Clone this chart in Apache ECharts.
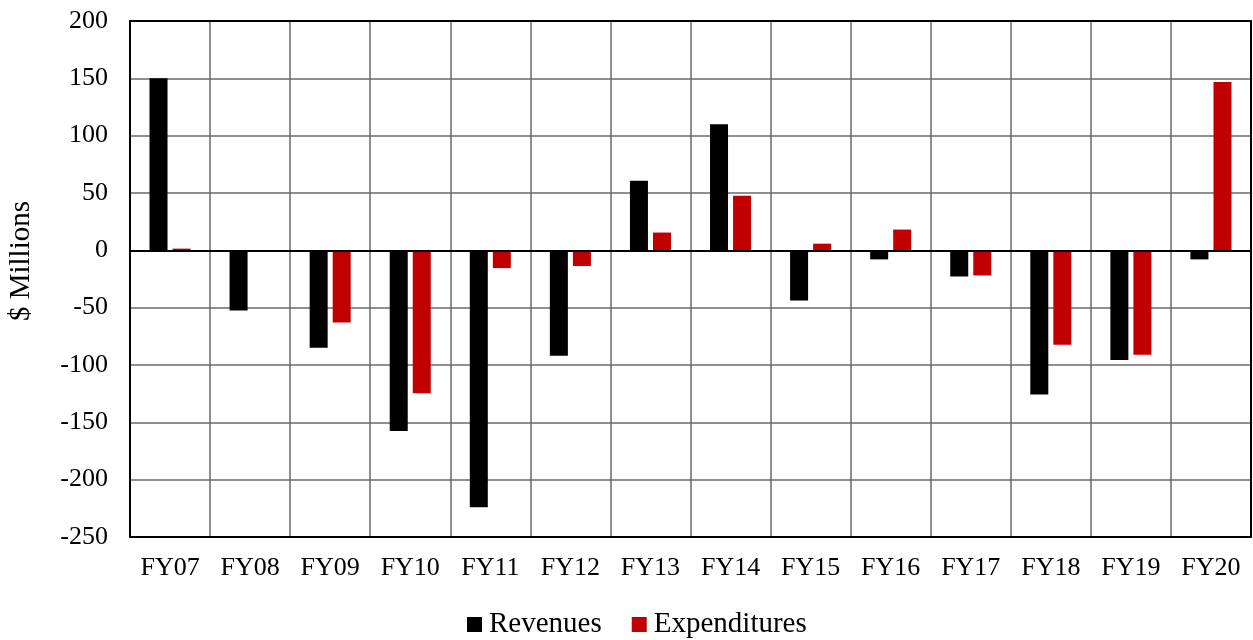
<!DOCTYPE html>
<html>
<head>
<meta charset="utf-8">
<script src="https://cdn.jsdelivr.net/npm/echarts@6/dist/echarts.min.js"></script>
<style>
  html, body { margin: 0; padding: 0; background: #fff; }
  #chart { width: 1253px; height: 640px; }
</style>
</head>
<body>
<div id="chart"></div>
<script>
// Fiscal years on the category axis
const years = ['FY07', 'FY08', 'FY09', 'FY10', 'FY11', 'FY12', 'FY13', 'FY14', 'FY15', 'FY16', 'FY17', 'FY18', 'FY19', 'FY20'];

// Year-over-year change, $ millions
const revenues = [150, -52.5, -85, -157.5, -224, -92, 60.7, 110, -43.8, -7.9, -22.8, -125.8, -95.7, -7.9];
const expenditures = [1.5, 0, -63, -124.6, -15.5, -13.7, 15.5, 47.6, 5.8, 18.1, -21.9, -82.3, -91, 146.8];

// Value axis range and ticks
const yMin = -250;
const yMax = 200;
const yStep = 50;

const serif = '"Liberation Serif", "Times New Roman", serif';
const gridGray = '#6a6a6a';

const chart = echarts.init(document.getElementById('chart'), null, { renderer: 'canvas' });

chart.setOption({
  backgroundColor: '#fff',
  animation: false,
  textStyle: { fontFamily: serif, color: '#000' },
  grid: { left: 130, right: 2, top: 21, bottom: 103, containLabel: false },
  legend: {
    left: 467,
    top: 610,
    padding: 0,
    icon: 'rect',
    itemWidth: 15,
    itemHeight: 15,
    itemGap: 30,
    textStyle: { fontFamily: serif, fontSize: 29, color: '#000', padding: [0, 0, 0, 2] },
    data: ['Revenues', 'Expenditures']
  },
  graphic: [{
    type: 'text',
    x: 21,
    y: 261,
    rotation: Math.PI / 2,
    style: {
      text: '$ Millions',
      font: '29px ' + serif,
      fill: '#000',
      align: 'center',
      verticalAlign: 'middle'
    }
  }],
  xAxis: [{
    type: 'category',
    data: years,
    position: 'bottom',
    boundaryGap: true,
    axisLine: { onZero: false, lineStyle: { color: '#000', width: 2 } },
    axisTick: { show: false },
    axisLabel: { fontFamily: serif, fontSize: 26, color: '#000', margin: 18 },
    splitLine: { show: true, lineStyle: { color: gridGray, width: 1.5 } }
  }, {
    type: 'category',
    data: years,
    position: 'top',
    axisLine: { onZero: false, lineStyle: { color: '#000', width: 2 } },
    axisTick: { show: false },
    axisLabel: { show: false },
    splitLine: { show: false }
  }],
  yAxis: [{
    type: 'value',
    min: yMin,
    max: yMax,
    interval: yStep,
    position: 'left',
    axisLine: { show: true, lineStyle: { color: '#000', width: 2 } },
    axisTick: { show: false },
    axisLabel: { fontFamily: serif, fontSize: 26, color: '#000', margin: 22 },
    splitLine: { show: true, lineStyle: { color: gridGray, width: 1.5 } }
  }, {
    type: 'value',
    min: yMin,
    max: yMax,
    interval: yStep,
    position: 'right',
    axisLine: { show: true, lineStyle: { color: '#000', width: 2 } },
    axisTick: { show: false },
    axisLabel: { show: false },
    splitLine: { show: false }
  }],
  series: [{
    name: 'Revenues',
    type: 'bar',
    data: revenues,
    barWidth: 18,
    barGap: '28%',
    itemStyle: { color: '#000000' },
    markLine: {
      silent: true,
      symbol: 'none',
      label: { show: false },
      lineStyle: { color: '#000', width: 2, type: 'solid' },
      data: [{ yAxis: 0 }]
    }
  }, {
    name: 'Expenditures',
    type: 'bar',
    data: expenditures,
    barWidth: 18,
    itemStyle: { color: '#C00000' }
  }]
});
</script>
</body>
</html>
